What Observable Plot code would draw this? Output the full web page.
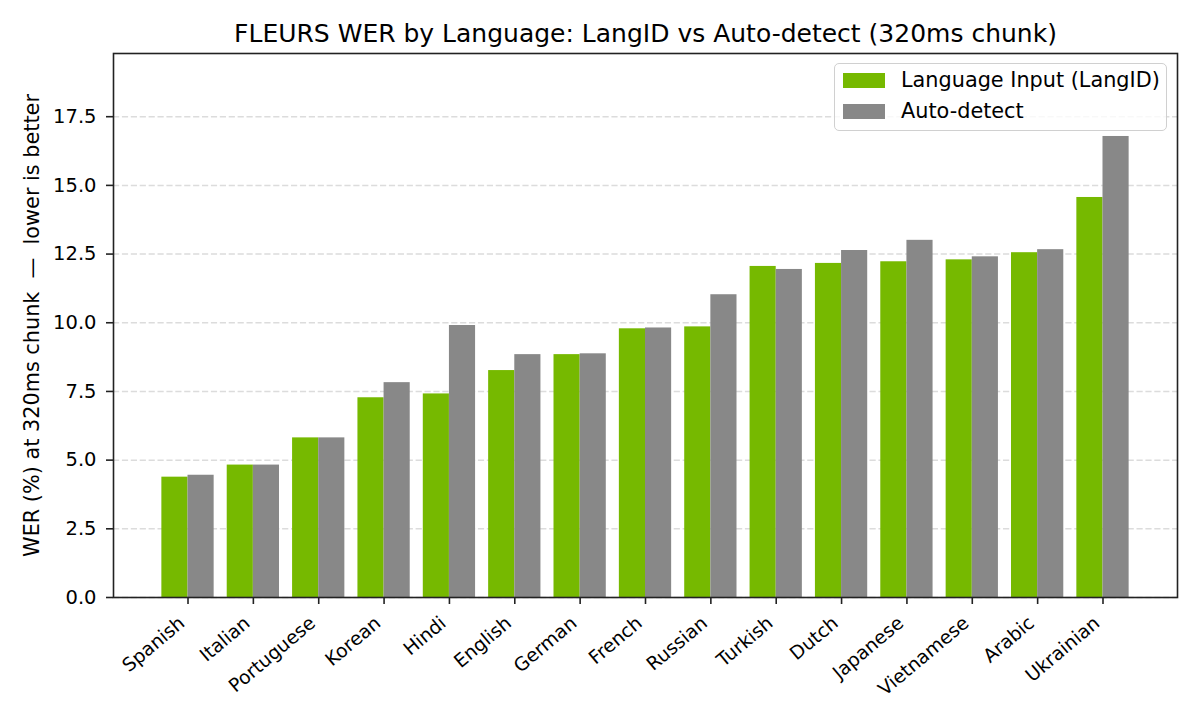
<!DOCTYPE html>
<html>
<head>
<meta charset="utf-8">
<script src="https://cdn.jsdelivr.net/npm/d3@7"></script>
<script src="https://cdn.jsdelivr.net/npm/@observablehq/plot@0.6"></script>
<style>
  html, body { margin: 0; padding: 0; background: white; }
  #wrap { position: relative; width: 1200px; height: 720px; font-family: "DejaVu Sans", sans-serif; }
  #legend { position: absolute; left: 834px; top: 63px; width: 333px; height: 68px;
    border: 1.5px solid #d0d0d0; border-radius: 5px; background: rgba(255,255,255,0.8); box-sizing: border-box; }
  .row { position: absolute; left: 8px; display: flex; align-items: center; font-size: 20.8px; line-height: 24px; color: #000; }
  .sw { width: 42px; height: 15px; margin-right: 16px; }
</style>
</head>
<body>
<div id="wrap"></div>
<script>
const languages = ["Spanish","Italian","Portuguese","Korean","Hindi","English","German","French","Russian","Turkish","Dutch","Japanese","Vietnamese","Arabic","Ukrainian"];
const langidWER = [4.38, 4.82, 5.81, 7.27, 7.41, 8.26, 8.84, 9.78, 9.85, 12.05, 12.16, 12.22, 12.29, 12.55, 14.56];
const autoWER   = [4.45, 4.82, 5.81, 7.82, 9.90, 8.84, 8.87, 9.81, 11.02, 11.94, 12.63, 13.00, 12.40, 12.66, 16.78];
const seriesNames = ["Language Input (LangID)", "Auto-detect"];
const seriesColors = ["#76b900", "#888888"];
const yTicks = [0, 2.5, 5, 7.5, 10, 12.5, 15, 17.5];
const titleText = "FLEURS WER by Language: LangID vs Auto-detect (320ms chunk)";
const yLabel = "WER (%) at 320ms chunk  \u2014  lower is better";

const data = languages.flatMap((lang, i) => [
  {i, lang, s: 0, series: seriesNames[0], value: langidWER[i]},
  {i, lang, s: 1, series: seriesNames[1], value: autoWER[i]}
]);
const barW = 0.4;
const yMax = d3.max(autoWER.concat(langidWER)) * 1.18;
const xTicks = languages.map((_, i) => i);

const chart = Plot.plot({
  width: 1200,
  height: 720,
  marginLeft: 113,
  marginRight: 23,
  marginTop: 53,
  marginBottom: 123,
  style: {fontFamily: "DejaVu Sans", fontSize: "18.8px", background: "white", color: "#000"},
  x: {domain: [-0.5 - barW * 1.6 , languages.length - 1 + 0.5 + barW * 1.6]},
  y: {domain: [0, yMax]},
  color: {domain: seriesNames, range: seriesColors},
  marks: [
    Plot.gridY(yTicks, {stroke: "#dcdcdc", strokeOpacity: 1, strokeWidth: 1.5, strokeDasharray: "6.2,2.7"}),
    Plot.rectY(data, {
      x1: d => d.i + (d.s === 0 ? -barW : 0),
      x2: d => d.i + (d.s === 0 ? 0 : barW),
      y: "value",
      fill: "series"
    }),
    Plot.frame({stroke: "#222", strokeWidth: 1.6}),
    Plot.axisY(yTicks, {
      tickFormat: d => d.toFixed(1),
      tickSize: 7,
      strokeWidth: 1.6,
      stroke: "#222",
      tickPadding: 10,
      fontSize: 19.5,
      label: null
    }),
    Plot.axisY({
      ticks: [],
      tickSize: 0,
      label: yLabel,
      labelAnchor: "center",
      labelArrow: "none",
      labelOffset: 89,
      fontSize: 20.8
    }),
    Plot.axisX(xTicks, {
      tickFormat: () => "",
      tickSize: 7,
      strokeWidth: 1.6,
      stroke: "#222",
      label: null
    }),
    Plot.axisX(xTicks, {
      tickFormat: i => languages[i],
      tickSize: 0,
      tickPadding: 23,
      dx: -6,
      tickRotate: -40,
      fontSize: 18.8,
      label: null
    }),
    Plot.text([titleText], {text: d => d, frameAnchor: "top", dy: -29, fontSize: 25, fill: "#000"})
  ]
});

const wrap = document.getElementById("wrap");
wrap.appendChild(chart);

const legend = document.createElement("div");
legend.id = "legend";
seriesNames.forEach((name, k) => {
  const row = document.createElement("div");
  row.className = "row";
  row.style.top = (k === 0 ? 4 : 35) + "px";
  const sw = document.createElement("div");
  sw.className = "sw";
  sw.style.background = seriesColors[k];
  const label = document.createElement("span");
  label.textContent = name;
  row.appendChild(sw);
  row.appendChild(label);
  legend.appendChild(row);
});
wrap.appendChild(legend);
</script>
</body>
</html>
